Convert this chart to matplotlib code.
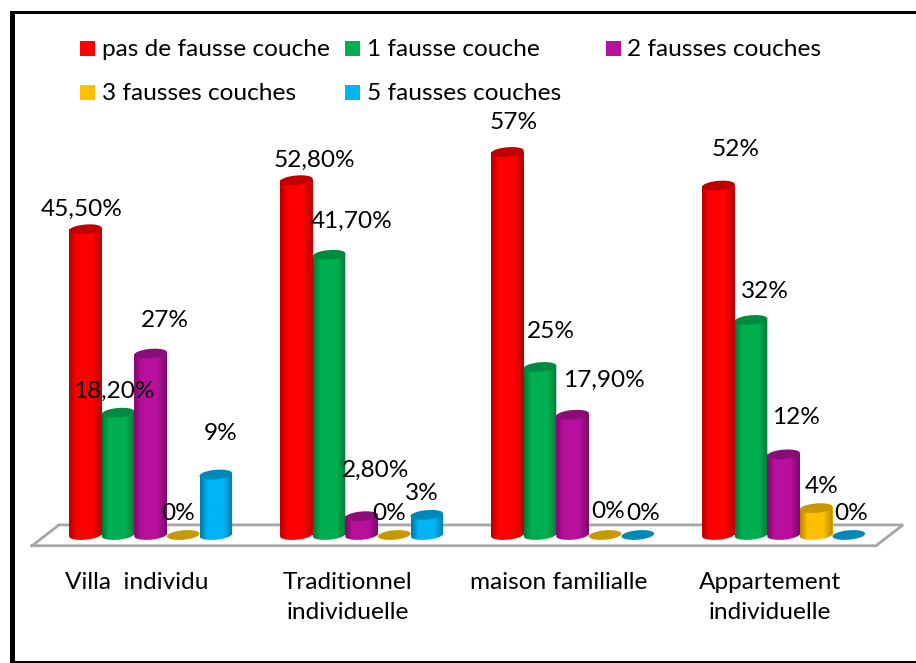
import matplotlib
matplotlib.use("Agg")
import matplotlib.pyplot as plt
import numpy as np
from matplotlib.colors import LinearSegmentedColormap
from matplotlib.patches import Rectangle
from matplotlib.path import Path

W, H = 916, 663
FONT = "Lato"
FONT_SIZE = 17.6

CATEGORIES = ["Villa  individu", "Traditionnel\nindividuelle", "maison familialle", "Appartement\nindividuelle"]
SERIES = ["pas de fausse couche", "1 fausse couche", "2 fausses couches", "3 fausses couches", "5 fausses couches"]
NONE = [45.5, 52.8, 57, 52]
ONE = [18.2, 41.7, 25, 32]
TWO = [27, 2.8, 17.9, 12]
THREE = [0, 0, 0, 4]
FIVE = [9, 3, 0, 0]
VALUES = [NONE, ONE, TWO, THREE, FIVE]
LABELS = [
    ["45,50%", "52,80%", "57%", "52%"],
    ["18,20%", "41,70%", "25%", "32%"],
    ["27%", "2,80%", "17,90%", "12%"],
    ["0%", "0%", "0%", "4%"],
    ["9%", "3%", "0%", "0%"],
]
# offset of each value label from the top of its bar, in pixels
LABEL_OFFSETS = [
    [(-4, 20), (18, 20), (6, 29), (17, 36)],
    [(-4, 21), (23, 33), (11, 35), (14, 28)],
    [(14, 33), (14, 46), (31, 34), (12, 37)],
    [(-5, 22), (-5, 22), (3, 23), (5, 22)],
    [(5, 41), (-5, 21), (5, 22), (2, 22)],
]

BASE = ["#ff0000", "#00b050", "#b8109c", "#ffc000", "#00b4f5"]
EDGE = ["#b00000", "#007a38", "#7a0a68", "#b58800", "#0078a8"]
TOPS = ["#c00000", "#008a40", "#8a0c78", "#c89800", "#0088b8"]
# legend swatch left edge, text start, swatch centre y and text centre y, pixels
LEGEND_POS = [(80, 102, 48.5, 47), (345, 367, 48.5, 47), (606, 627, 48.5, 47),
              (80, 102, 92.5, 91), (345, 367, 92.5, 91)]

PX_PER_GROUP = 211
PX_PER_PCT = 6.72
GROUP0_X = 150.6
ZERO_Y = 535
AXES_BOTTOM = 555
BAR_WIDTH = 32.6 / PX_PER_GROUP
EL_B = 0.7
EL_TILT = 0.2


def ellipse_xy(cx, y, t):
    xs = cx + BAR_WIDTH / 2 * np.cos(t)
    ys = y + EL_B * np.sin(t) + EL_TILT * np.cos(t)
    return xs, ys


def draw_cylinder(ax, patch, j, z):
    x0 = patch.get_x()
    w = patch.get_width()
    top = patch.get_height()
    cx = x0 + w / 2
    if top > 0:
        t = np.linspace(np.pi, 2 * np.pi, 40)
        xs, ys = ellipse_xy(cx, 0, t)
        outline = np.column_stack([
            np.r_[xs, x0 + w, x0],
            np.r_[ys, top + EL_TILT, top - EL_TILT],
        ])
        cmap = LinearSegmentedColormap.from_list(
            "cyl", [(0, EDGE[j]), (0.22, BASE[j]), (0.72, BASE[j]), (1, EDGE[j])]
        )
        shade = np.linspace(0, 1, 64).reshape(1, -1)
        im = ax.imshow(shade, cmap=cmap, extent=(x0, x0 + w, -EL_B - EL_TILT, top + 1),
                       aspect="auto", zorder=z + 0.1, interpolation="bilinear")
        im.set_clip_path(Path(outline, closed=False), transform=ax.transData)
    t = np.linspace(0, 2 * np.pi, 60)
    xs, ys = ellipse_xy(cx, top, t)
    ax.fill(xs, ys, color=TOPS[j], lw=0, zorder=z + 0.2)


def main():
    plt.rcParams["font.family"] = [FONT, "DejaVu Sans"]
    fig = plt.figure(figsize=(W / 100, H / 100), dpi=100)
    ax = fig.add_axes([0, 1 - AXES_BOTTOM / H, 1, AXES_BOTTOM / H])

    # floor of the 3D chart
    floor_x = (np.array([32, 59, 903, 876, 32]) - GROUP0_X) / PX_PER_GROUP
    floor_y = np.array([-1.6, 1.5, 1.5, -1.6, -1.6])
    ax.plot(floor_x, floor_y, color="#a6a6a6", lw=2, zorder=1, solid_joinstyle="miter")

    groups = np.arange(len(CATEGORIES))
    for j, vals in enumerate(VALUES):
        z = 2 + j
        xs = groups + (j - 2) * BAR_WIDTH
        bars = ax.bar(xs, vals, BAR_WIDTH, color=BASE[j], zorder=z, label=SERIES[j])
        for i, patch in enumerate(bars):
            draw_cylinder(ax, patch, j, z)
            ax.annotate(LABELS[j][i], (xs[i], vals[i]), xytext=LABEL_OFFSETS[j][i],
                        textcoords="offset pixels", ha="center", va="center",
                        fontsize=FONT_SIZE, color="black", zorder=20)

    ax.set_xlim(-GROUP0_X / PX_PER_GROUP, (W - GROUP0_X) / PX_PER_GROUP)
    ax.set_ylim((ZERO_Y - AXES_BOTTOM) / PX_PER_PCT, ZERO_Y / PX_PER_PCT)
    ax.set_xticks(groups - 0.065)
    ax.set_xticklabels(CATEGORIES, fontsize=FONT_SIZE, linespacing=1.55)
    ax.tick_params(axis="x", length=0, pad=12)
    ax.set_yticks([])
    for spine in ax.spines.values():
        spine.set_visible(False)

    # legend laid out by hand, the columns are uneven in the original
    for (sx, tx, sy, ty), name, color in zip(LEGEND_POS, SERIES, BASE):
        fig.add_artist(Rectangle((sx / W, 1 - (sy + 7.5) / H), 15 / W, 15 / H,
                                 transform=fig.transFigure, color=color, lw=0))
        fig.text(tx / W, 1 - ty / H, name, fontsize=FONT_SIZE, ha="left", va="center_baseline")

    # picture frame
    fig.add_artist(Rectangle((10 / W, 0), 5 / W, 1 - 11 / H, transform=fig.transFigure, color="black", lw=0))
    fig.add_artist(Rectangle((10 / W, 1 - 14 / H), 1, 3 / H, transform=fig.transFigure, color="black", lw=0))
    fig.add_artist(Rectangle((10 / W, 0), 1, 2 / H, transform=fig.transFigure, color="black", lw=0))

    fig.savefig("out.png", dpi=100)
    plt.close(fig)


if __name__ == "__main__":
    main()
